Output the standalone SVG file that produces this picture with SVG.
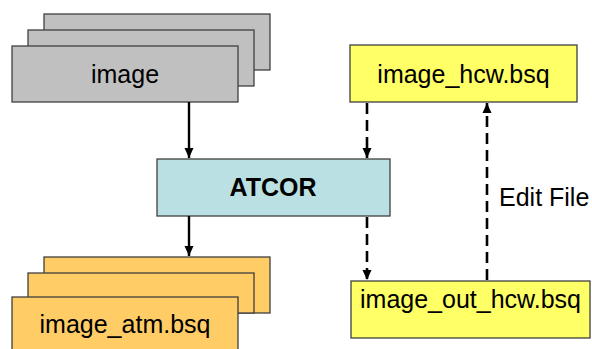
<svg xmlns="http://www.w3.org/2000/svg" width="592" height="349" viewBox="0 0 592 349">
<defs>
<style>
.box{stroke:#404040;stroke-width:1.3}
.gray{fill:#C0C0C0}
.cyan{fill:#BAE0E3}
.orange{fill:#FFCC66}
.yellow{fill:#FFFF66}
.t{font-family:"Liberation Sans",Arial,sans-serif;font-size:25px;fill:#000;text-anchor:middle}
.b{font-weight:bold}
.solid{stroke:#000;stroke-width:2.4;fill:none}
.dash{stroke:#000;stroke-width:2.6;fill:none;stroke-dasharray:11,6}
</style>
<marker id="ah" markerWidth="10" markerHeight="10" viewBox="0 0 10 10" refX="10" refY="5" orient="auto" markerUnits="userSpaceOnUse">
<path d="M0,0.5 L10,5 L0,9.5 Z" fill="#000"/>
</marker>
</defs>
<rect width="592" height="349" fill="#fff"/>
<g id="image">
<rect class="box gray" x="44" y="14" width="226" height="56"/>
<rect class="box gray" x="28" y="30" width="226" height="56"/>
<rect class="box gray" x="12" y="46" width="226" height="56"/>
<text class="t" x="125" y="83">image</text>
</g>
<g id="atcor">
<rect class="box cyan" x="157" y="159" width="233" height="57"/>
<text class="t b" x="273" y="196">ATCOR</text>
</g>
<g id="image_atm">
<rect class="box orange" x="44" y="257" width="226" height="56"/>
<rect class="box orange" x="28" y="273" width="226" height="40"/>
<rect class="box orange" x="12" y="297" width="226" height="60"/>
<text class="t" x="125" y="333">image_atm.bsq</text>
</g>
<g id="image_hcw">
<rect class="box yellow" x="350" y="45" width="227" height="57"/>
<text class="t" x="463.5" y="83">image_hcw.bsq</text>
</g>
<g id="image_out_hcw">
<rect class="box yellow" x="351" y="281" width="239" height="57"/>
<text class="t" x="470.5" y="308">image_out_hcw.bsq</text>
</g>
<g id="connectors">
<line class="solid" x1="189" y1="102" x2="189" y2="158" marker-end="url(#ah)"/>
<line class="solid" x1="189" y1="216" x2="189" y2="256" marker-end="url(#ah)"/>
<line class="dash" x1="367" y1="103" x2="367" y2="158" marker-end="url(#ah)"/>
<line class="dash" x1="367" y1="217" x2="367" y2="280" marker-end="url(#ah)"/>
<line class="dash" x1="487" y1="280" x2="487" y2="103" marker-end="url(#ah)"/>
<text class="t" x="499" y="206" style="text-anchor:start">Edit File</text>
</g>
</svg>
